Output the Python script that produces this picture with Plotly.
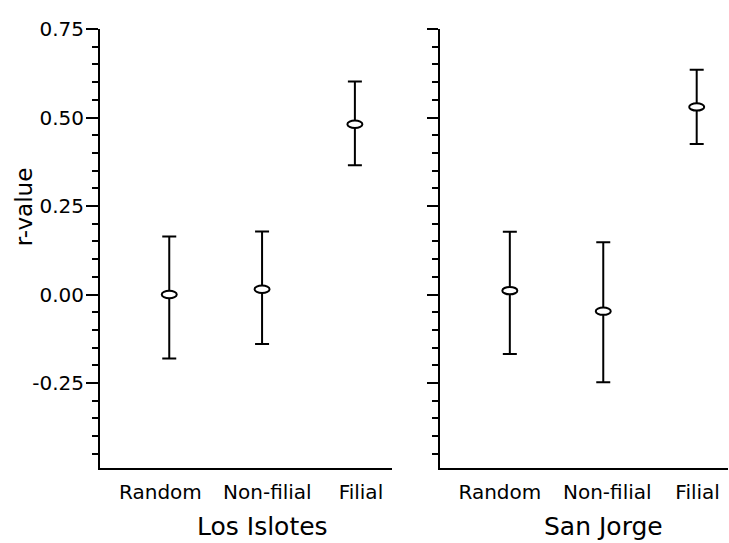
import plotly.graph_objects as go

# ---------------- data ----------------
categories = ["Random", "Non-filial", "Filial"]
cat_index = [1, 2, 3]

islotes_mean = [0.000, 0.015, 0.481]
islotes_upper = [0.164, 0.178, 0.602]
islotes_lower = [-0.181, -0.140, 0.365]

jorge_mean = [0.011, -0.047, 0.530]
jorge_upper = [0.177, 0.148, 0.635]
jorge_lower = [-0.168, -0.248, 0.425]

panel_titles = ["Los Islotes", "San Jorge"]
y_title = "r-value"
y_tickvals = [-0.25, 0.0, 0.25, 0.50, 0.75]
y_ticktext = ["-0.25", "0.00", "0.25", "0.50", "0.75"]

FONT = "DejaVu Sans"

# small horizontal nudges of the category labels (layout only)
label_nudge_left = [-0.095, 0.057, 0.065]
label_nudge_right = [-0.107, 0.043, 0.010]

fig = go.Figure()

panels = [
    ("x", "y", islotes_mean, islotes_upper, islotes_lower),
    ("x2", "y2", jorge_mean, jorge_upper, jorge_lower),
]

shapes = []
for xa, ya, mean, up, lo in panels:
    fig.add_trace(go.Scatter(
        x=cat_index, y=mean, xaxis=xa, yaxis=ya, mode="markers",
        marker=dict(size=1, color="rgba(0,0,0,0)"),
        error_y=dict(type="data", symmetric=False,
                     array=[u - m for u, m in zip(up, mean)],
                     arrayminus=[m - l for m, l in zip(mean, lo)],
                     color="black", thickness=2, width=7),
        showlegend=False, hoverinfo="skip",
    ))
    for xi, m in zip(cat_index, mean):
        shapes.append(dict(
            type="circle", xref=xa, yref=ya,
            xsizemode="pixel", ysizemode="pixel",
            xanchor=xi, yanchor=m, x0=-7.5, x1=7.5, y0=-3.7, y1=3.7,
            fillcolor="white", line=dict(color="black", width=2),
            layer="above",
        ))

yaxis_common = dict(
    range=[-0.49, 0.75], showline=True, linewidth=2, linecolor="black",
    ticks="outside", tickwidth=2, tickcolor="black",
    tickvals=y_tickvals, showgrid=False, zeroline=False,
    minor=dict(dtick=0.05, tick0=0, ticks="outside", ticklen=6,
               tickwidth=2, tickcolor="black", showgrid=False),
    tickfont=dict(family=FONT, size=20, color="black"),
)
xaxis_common = dict(
    showline=True, linewidth=2, linecolor="black", ticks="",
    ticktext=categories, showgrid=False, zeroline=False,
    tickfont=dict(family=FONT, size=20, color="black"),
    ticklabelstandoff=5,
)

annotations = [
    dict(text=y_title, xref="paper", yref="paper", x=-0.122, y=0.595,
         xanchor="center", yanchor="middle", textangle=-90, showarrow=False,
         font=dict(family=FONT, size=23, color="black")),
    dict(text=panel_titles[0], xref="x", yref="paper", x=2, y=-0.134,
         xanchor="center", yanchor="middle", showarrow=False,
         font=dict(family=FONT, size=25, color="black")),
    dict(text=panel_titles[1], xref="x2", yref="paper", x=2, y=-0.134,
         xanchor="center", yanchor="middle", showarrow=False,
         font=dict(family=FONT, size=25, color="black")),
]

fig.update_layout(
    width=729, height=543,
    margin=dict(l=100, r=1, t=29, b=75),
    paper_bgcolor="white", plot_bgcolor="white",
    xaxis=dict(domain=[0, 0.465], range=[0.254, 3.40], anchor="y",
               tickvals=[c + d for c, d in zip(cat_index, label_nudge_left)],
               **xaxis_common),
    xaxis2=dict(domain=[0.541, 1.0], range=[0.25, 3.335], anchor="y2",
                tickvals=[c + d for c, d in zip(cat_index, label_nudge_right)],
                **xaxis_common),
    yaxis=dict(domain=[0, 1], anchor="x", ticklen=12, ticktext=y_ticktext,
               ticklabelstandoff=-2, **yaxis_common),
    yaxis2=dict(domain=[0, 1], anchor="x2", ticklen=11, showticklabels=False,
                **yaxis_common),
    shapes=shapes,
    annotations=annotations,
)

fig.write_html("out.html", config={"displayModeBar": False},
               post_script="document.body.style.margin='0';document.body.style.padding='0';")
